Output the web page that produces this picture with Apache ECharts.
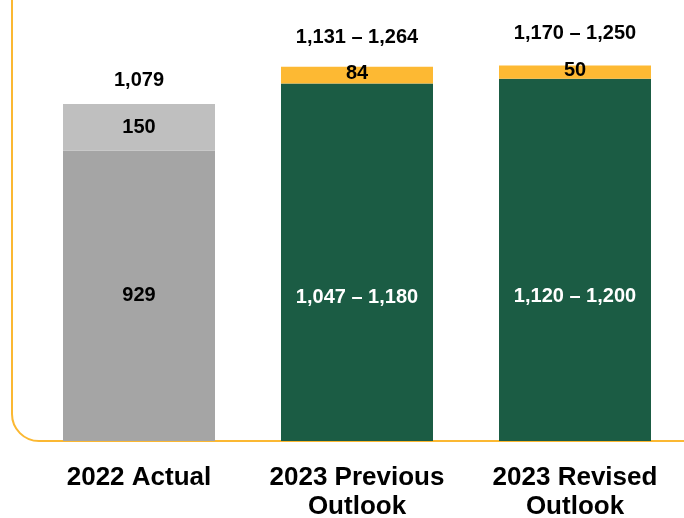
<!DOCTYPE html>
<html>
<head>
<meta charset="utf-8">
<script src="https://cdn.jsdelivr.net/npm/echarts@6/dist/echarts.min.js"></script>
<style>
  html, body { margin: 0; padding: 0; background: #fff; }
  #chart { width: 684px; height: 518px; }
</style>
</head>
<body>
<div id="chart"></div>
<script>
  // values
  var categories = ['2022 Actual', '2023 Previous\nOutlook', '2023 Revised\nOutlook'];
  var baseValues = [929, 1145, 1160];
  var topValues = [150, 53, 42];
  var baseLabels = ['929', '1,047 \u2013 1,180', '1,120 \u2013 1,200'];
  var topLabels = ['150', '84', '50'];
  var totalLabels = ['1,079', '1,131 \u2013 1,264', '1,170 \u2013 1,250'];

  var baseColors = ['#a5a5a5', '#1b5c44', '#1b5c44'];
  var topColors = ['#bfbfbf', '#fdb933', '#fdb933'];
  var totalGap = [14, 19, 22];
  var font = '"Liberation Sans", Arial, sans-serif';
  var frameStyle = { stroke: '#fbb832', lineWidth: 2, fill: null };

  var dom = document.getElementById('chart');
  var myChart = echarts.init(dom);

  var option = {
      animation: false,
      grid: { left: 30, right: 0, top: 0, bottom: 77, containLabel: false, outerBoundsMode: 'none' },
      xAxis: {
          type: 'category',
          data: categories,
          axisLine: { show: false },
          axisTick: { show: false },
          axisLabel: {
              interval: 0,
              margin: 22,
              color: '#000',
              fontFamily: font,
              fontWeight: 'bold',
              fontSize: 26,
              lineHeight: 29
          }
      },
      yAxis: {
          type: 'value',
          min: 0,
          max: 1412,
          show: false,
          splitLine: { show: false }
      },
      // rounded L-shaped frame
      graphic: [
          { type: 'line', silent: true, shape: { x1: 12, y1: 0, x2: 12, y2: 414 }, style: frameStyle },
          { type: 'arc', silent: true,
            shape: { cx: 39, cy: 414, r: 27, startAngle: Math.PI / 2, endAngle: Math.PI, clockwise: true },
            style: frameStyle },
          { type: 'line', silent: true, shape: { x1: 39, y1: 441, x2: 684, y2: 441 }, style: frameStyle }
      ],
      series: [
          {
              name: 'base',
              type: 'bar',
              stack: 'total',
              barWidth: 152,
              data: baseValues.map(function (v, i) {
                  return {
                      value: v,
                      itemStyle: { color: baseColors[i] },
                      label: {
                          show: true,
                          formatter: baseLabels[i],
                          position: i === 0 ? 'inside' : ['50%', '60%'],
                          align: 'center',
                          verticalAlign: 'middle',
                          color: i === 0 ? '#000' : '#fff',
                          fontFamily: font,
                          fontWeight: 'bold',
                          fontSize: 20
                      }
                  };
              })
          },
          {
              name: 'top',
              type: 'bar',
              stack: 'total',
              data: topValues.map(function (v, i) {
                  return {
                      value: v,
                      itemStyle: { color: topColors[i] },
                      label: {
                          show: true,
                          formatter: topLabels[i],
                          position: 'inside',
                          offset: [0, i === 0 ? 0 : -2],
                          color: '#000',
                          fontFamily: font,
                          fontWeight: 'bold',
                          fontSize: 20
                      }
                  };
              })
          },
          {
              name: 'total',
              type: 'bar',
              stack: 'total',
              data: totalLabels.map(function (t, i) {
                  return {
                      value: 0,
                      itemStyle: { color: 'transparent' },
                      label: {
                          show: true,
                          formatter: t,
                          position: 'top',
                          distance: totalGap[i],
                          color: '#000',
                          fontFamily: font,
                          fontWeight: 'bold',
                          fontSize: 20
                      }
                  };
              })
          }
      ]
  };

  if (option && typeof option === 'object') {
      myChart.setOption(option, true);
  }
</script>
</body>
</html>
